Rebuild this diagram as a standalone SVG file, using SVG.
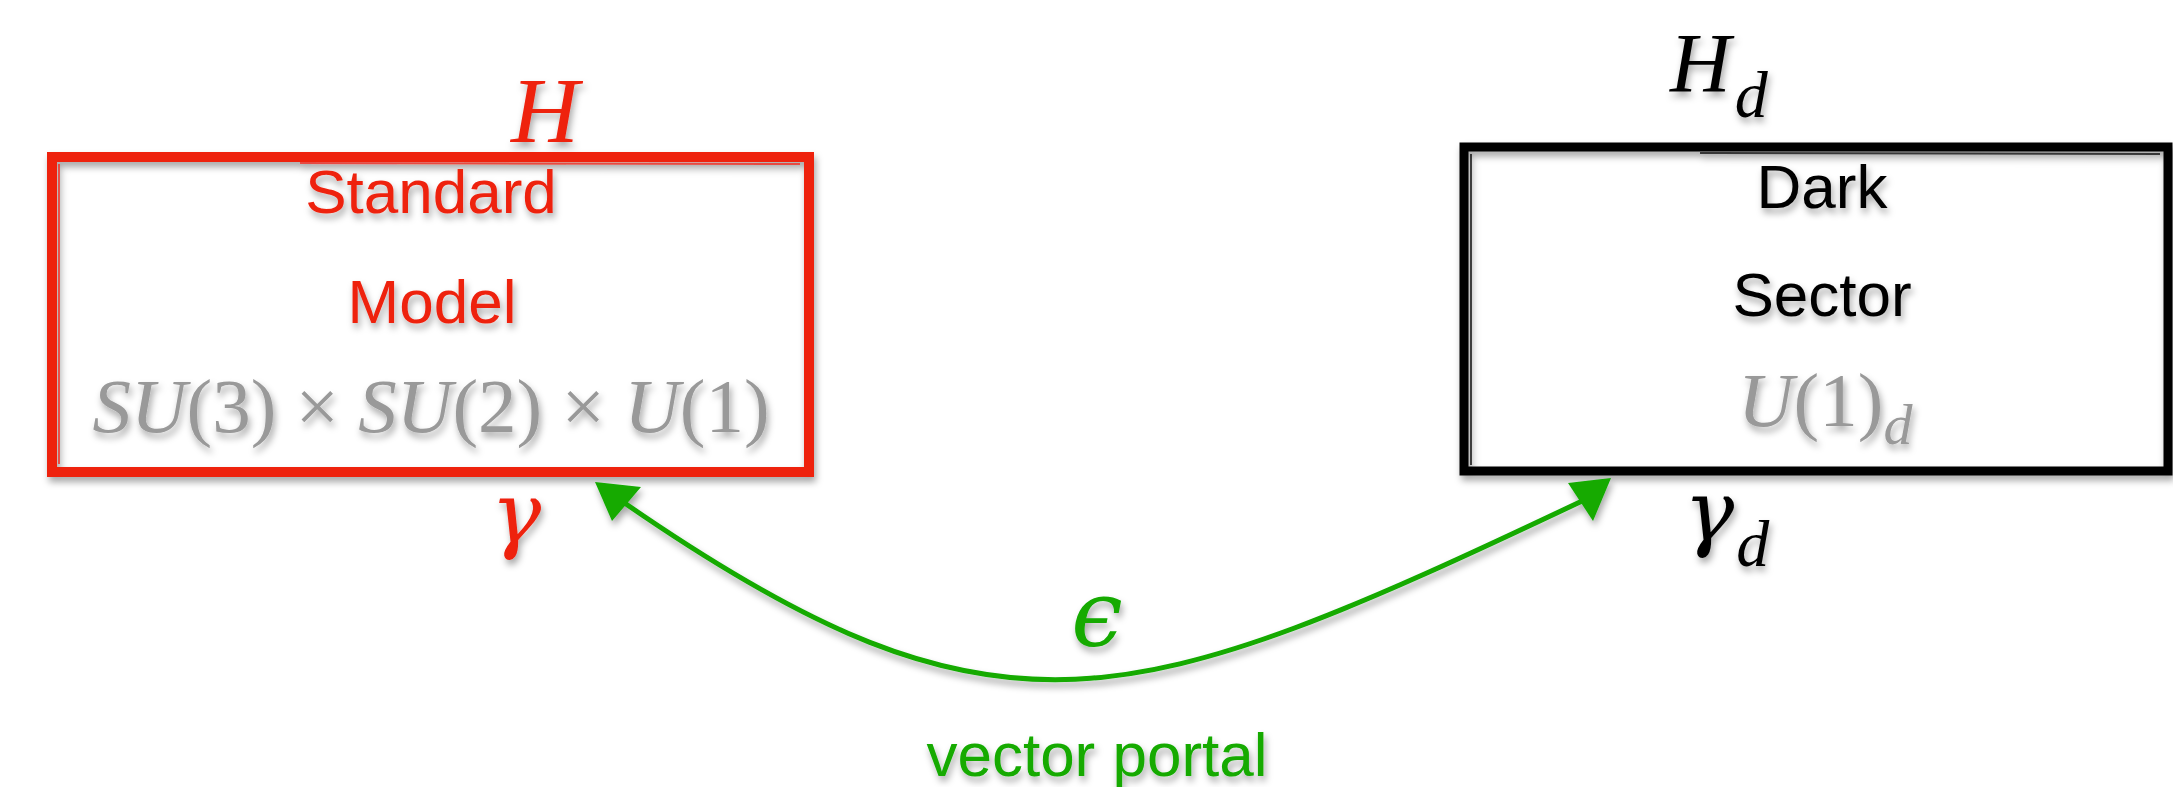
<svg xmlns="http://www.w3.org/2000/svg" width="2173" height="787" viewBox="0 0 2173 787">
<defs>
<filter id="sh" x="-10%" y="-10%" width="120%" height="130%">
<feDropShadow dx="2" dy="5" stdDeviation="3.5" flood-color="#000" flood-opacity="0.35"/>
</filter>
<style>
.sans{font-family:"Liberation Sans",Arial,sans-serif;font-size:62px;text-anchor:middle}
.math{font-family:"Liberation Serif","DejaVu Serif",serif}
.greek{font-family:"DejaVu Serif","Liberation Serif",serif}
.it{font-style:italic}
.red{fill:#ee2010}
.blk{fill:#000}
.gray{fill:#999}
.grn{fill:#12aa00}
.boxr{fill:none;stroke:#ee2010;stroke-width:10}
.boxb{fill:none;stroke:#000;stroke-width:9}
.thinr{fill:none;stroke:#ee2010;stroke-width:2;opacity:0.7}
.thinb{fill:none;stroke:#000;stroke-width:2;opacity:0.7}
.conn{fill:none;stroke:#12aa00;stroke-width:5;stroke-linecap:round}
.head{fill:#12aa00}
</style>
</defs>
<rect width="2173" height="787" fill="#fff"/>
<g id="sm" filter="url(#sh)">
<rect class="boxr" x="52" y="157" width="757" height="315"/>
<path class="thinr" d="M59 164 L59 464 M300 163 L800 164"/>
<text class="math it red" x="545" y="142" font-size="94" text-anchor="middle">H</text>
<text class="sans red" x="431" y="213">Standard</text>
<text class="sans red" x="432" y="323">Model</text>
<text class="math gray" x="431" y="432" font-size="77" text-anchor="middle"><tspan class="it">SU</tspan>(3) × <tspan class="it">SU</tspan>(2) × <tspan class="it">U</tspan>(1)</text>
<text class="greek it red" x="516" y="542" font-size="84" text-anchor="middle">γ</text>
</g>
<g id="dark" filter="url(#sh)">
<rect class="boxb" x="1464" y="147" width="704" height="324"/>
<path class="thinb" d="M1471 154 L1471 465 M1700 153 L2160 154"/>
<text class="math it blk" x="1670" y="92" font-size="84">H<tspan font-size="66" dx="4" y="117">d</tspan></text>
<text class="sans blk" x="1822" y="208">Dark</text>
<text class="sans blk" x="1822" y="316">Sector</text>
<text class="math gray" x="1738" y="426" font-size="77"><tspan class="it">U</tspan>(1)<tspan class="it" font-size="58" y="444">d</tspan></text>
<text class="it blk" x="1684" y="540" font-size="84"><tspan class="greek">γ</tspan><tspan class="math" font-size="66" dx="2" y="566">d</tspan></text>
</g>
<g id="connectors" filter="url(#sh)">
<path class="conn" d="M626 504 C1000 762 1132 714 1580 502"/>
<polygon class="head" points="595,482 641,487 612,521"/>
<polygon class="head" points="1611,478 1568,483 1593,521"/>
<text class="greek it grn" x="1097" y="646" font-size="92" text-anchor="middle">ϵ</text>
<text class="sans grn" x="1097" y="776" font-size="58">vector portal</text>
</g>
</svg>
